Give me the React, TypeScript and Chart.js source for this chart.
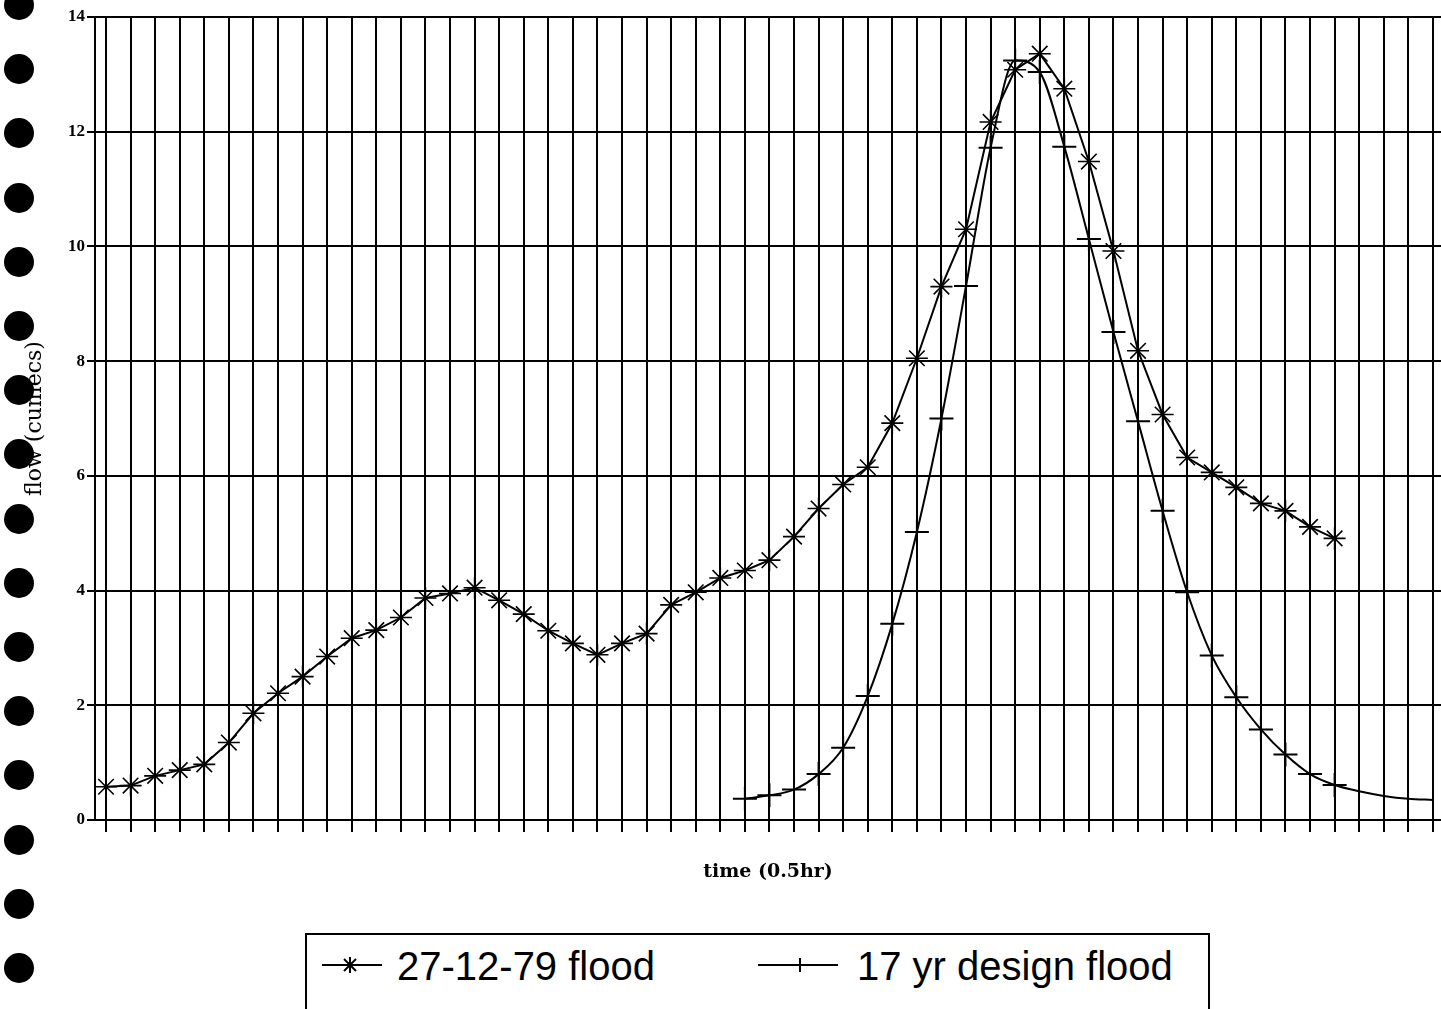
import React, { useEffect, useRef } from 'react';
import { Chart, registerables } from 'chart.js';

Chart.register(...registerables);

// time steps (0.5 hr each)
const timeSteps: number[] = [
  1, 2, 3, 4, 5, 6, 7, 8, 9, 10, 11, 12, 13, 14, 15, 16, 17, 18, 19, 20,
  21, 22, 23, 24, 25, 26, 27, 28, 29, 30, 31, 32, 33, 34, 35, 36, 37, 38, 39, 40,
  41, 42, 43, 44, 45, 46, 47, 48, 49, 50, 51, 52, 53, 54, 55,
];

const floodLabel = '27-12-79 flood';
const designLabel = '17 yr design flood';

// observed flood 27-12-79 (cumecs)
const floodValues: number[] = [
  0.58, 0.6, 0.77, 0.87, 0.97, 1.35, 1.86, 2.21, 2.5, 2.85,
  3.17, 3.31, 3.53, 3.87, 3.95, 4.05, 3.83, 3.59, 3.3, 3.08,
  2.88, 3.08, 3.25, 3.75, 3.97, 4.22, 4.35, 4.53, 4.94, 5.43,
  5.85, 6.15, 6.92, 8.05, 9.3, 10.3, 12.17, 13.08, 13.36, 12.75,
  11.48, 9.92, 8.18, 7.07, 6.32, 6.06, 5.8, 5.52, 5.39, 5.11,
  4.91,
];

// 17 yr design flood (cumecs)
const designValues: (number | null)[] = [
  null, null, null, null, null, null, null, null, null, null,
  null, null, null, null, null, null, null, null, null, null,
  null, null, null, null, null, null, 0.37, 0.43, 0.53, 0.8,
  1.26, 2.16, 3.42, 5.02, 7.0, 9.31, 11.72, 13.24, 13.04, 11.74,
  10.13, 8.51, 6.95, 5.39, 3.97, 2.87, 2.14, 1.58, 1.14, 0.8,
  0.61, 0.5, 0.42, 0.37, 0.35,
];
const designLastMarked = 50;

const yTicks: number[] = [0, 2, 4, 6, 8, 10, 12, 14];

const holeCount = 16;

export default function App() {
  const canvasRef = useRef<HTMLCanvasElement | null>(null);

  useEffect(() => {
    const canvas = canvasRef.current;
    if (!canvas) return;
    const chart = new Chart(canvas, {
      type: 'line',
      data: {
        datasets: [
          {
            label: floodLabel,
            data: floodValues.map((v, i) => ({ x: timeSteps[i], y: v })),
            borderColor: '#000',
            borderWidth: 2,
            tension: 0,
            pointStyle: 'star',
            pointRadius: 11,
            pointBorderWidth: 1.6,
            pointBorderColor: '#000',
            pointBackgroundColor: 'rgba(0,0,0,0)',
          },
          {
            label: designLabel,
            data: timeSteps.map((t, i) => ({ x: t, y: designValues[i] })),
            borderColor: '#000',
            borderWidth: 2,
            cubicInterpolationMode: 'monotone',
            pointStyle: 'cross',
            pointRadius: (ctx: any) => (ctx.dataIndex > designLastMarked ? 0 : 12),
            pointBorderWidth: 2,
            pointBorderColor: '#000',
            pointBackgroundColor: 'rgba(0,0,0,0)',
          },
        ],
      },
      options: {
        animation: false,
        responsive: false,
        maintainAspectRatio: false,
        layout: { autoPadding: false, padding: { left: 19, top: 17, right: 0, bottom: 0 } },
        plugins: {
          legend: { display: false },
          tooltip: { enabled: false },
        },
        scales: {
          x: {
            type: 'linear',
            min: timeSteps[0] - 0.448,
            max: timeSteps[timeSteps.length - 1] + 0.33,
            afterBuildTicks: (s: any) => {
              s.ticks = timeSteps.map((v) => ({ value: v }));
            },
            ticks: { display: false },
            grid: { color: '#000', lineWidth: 2, drawTicks: true, tickLength: 12 },
            border: { display: true, color: '#000', width: 2 },
            title: {
              display: true,
              text: 'time (0.5hr)',
              color: '#000',
              font: { family: 'DejaVu Serif', size: 19, weight: 'bold' },
              padding: { top: 0, bottom: 17 },
            },
            afterFit: (s: any) => {
              s.height = 80;
            },
          },
          y: {
            type: 'linear',
            min: yTicks[0],
            max: yTicks[yTicks.length - 1],
            afterBuildTicks: (s: any) => {
              s.ticks = yTicks.map((v) => ({ value: v }));
            },
            ticks: {
              color: '#000',
              font: { family: 'Liberation Serif', size: 17, weight: 'bold' },
              padding: 2,
            },
            grid: { color: '#000', lineWidth: 2, tickLength: 8 },
            border: { display: true, color: '#000', width: 2 },
            title: {
              display: true,
              text: 'flow (cumecs)',
              color: '#000',
              font: { family: 'DejaVu Serif', size: 22 },
              padding: { top: 3, bottom: 4 },
            },
            afterFit: (s: any) => {
              s.width = 76;
            },
          },
        },
      },
    });
    return () => chart.destroy();
  }, []);

  const holes = Array.from({ length: holeCount }, (_, i) => 5 + i * 64.2);

  const legendText: React.CSSProperties = {
    position: 'absolute',
    top: 11,
    fontFamily: '"Liberation Sans", Arial, sans-serif',
    fontSize: 40,
    lineHeight: '40px',
    color: '#000',
    whiteSpace: 'nowrap',
  };

  return (
    <div
      style={{
        position: 'absolute',
        left: 0,
        top: 0,
        width: 1441,
        height: 1009,
        overflow: 'hidden',
        background: '#fff',
      }}
    >
      <canvas
        ref={canvasRef}
        width={1441}
        height={900}
        style={{ position: 'absolute', left: 0, top: 0, display: 'block' }}
      />
      {holes.map((cy, i) => (
        <div
          key={i}
          style={{
            position: 'absolute',
            left: 4,
            top: cy - 15,
            width: 30,
            height: 30,
            borderRadius: '50%',
            background: '#000',
          }}
        />
      ))}
      <div
        style={{
          position: 'absolute',
          left: 305,
          top: 933,
          width: 905,
          height: 120,
          border: '2px solid #000',
          boxSizing: 'border-box',
        }}
      >
        <svg
          width={905}
          height={60}
          style={{ position: 'absolute', left: -2, top: -2 }}
        >
          <g stroke="#000" strokeWidth={2}>
            <line x1={17} y1={32} x2={77} y2={32} />
            <line x1={45} y1={24} x2={45} y2={40} />
            <line x1={39} y1={26} x2={51} y2={38} />
            <line x1={39} y1={38} x2={51} y2={26} />
            <line x1={453} y1={32} x2={533} y2={32} />
            <line x1={495} y1={25} x2={495} y2={39} />
          </g>
        </svg>
        <span style={{ ...legendText, left: 90 }}>{floodLabel}</span>
        <span style={{ ...legendText, left: 550 }}>{designLabel}</span>
      </div>
    </div>
  );
}
